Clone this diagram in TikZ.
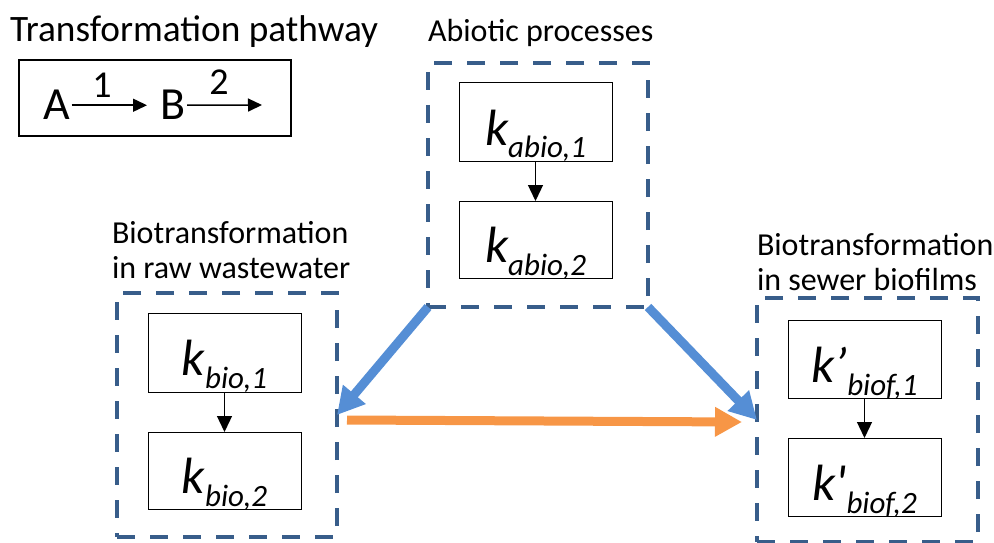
\documentclass[tikz,border=0pt]{standalone}
\usepackage{fontspec}
\newfontfamily\calfont{Carlito}
\usetikzlibrary{arrows.meta}
\definecolor{dashblue}{HTML}{385D8A}
\definecolor{arrblue}{HTML}{558ED5}
\definecolor{arrorange}{HTML}{F79646}
\newcommand{\kk}[2]{{\itshape\fontsize{51}{51}\selectfont #1}{\raisebox{-13pt}{\itshape\fontsize{31}{31}\selectfont #2}}}
\begin{document}
\begin{tikzpicture}[x=1pt,y=-1pt,
  every node/.style={inner sep=0pt, outer sep=0pt},
  lbl/.style={font=\calfont\fontsize{32}{35}\selectfont, anchor=base west},
  kbox/.style={draw, line width=1pt, minimum width=153pt, minimum height=78pt, font=\calfont, text height=56pt, text depth=10pt},
  grp/.style={draw=dashblue, line width=3.5pt, dash pattern=on 18pt off 15pt, anchor=north west},
  flow/.style={-{Triangle[length=27pt,width=28pt]}, line width=9pt},
  small/.style={-{Triangle[length=16pt,width=15pt]}, line width=1.3pt},
  pwarrow/.style={-{Triangle[length=14pt,width=13pt]}, line width=1.5pt}]
\useasboundingbox (0,0) rectangle (994,543);

% transformation pathway
\node[font=\calfont\fontsize{37.3}{40}\selectfont, anchor=base west] (title) at (10,42) {Transformation pathway};
\node[draw, line width=2pt, minimum width=272pt, minimum height=76pt, anchor=north west] (pw) at (19,60) {};
\node[font=\calfont\fontsize{46}{46}\selectfont, anchor=base west] (A) at (43,120) {A};
\node[font=\calfont\fontsize{46}{46}\selectfont, anchor=base west] (B) at (160,120) {B};
\coordinate (Bend) at (262,105);
\draw[pwarrow] ([xshift=2pt]A.east) -- ([xshift=-13pt]B.west);
\draw[pwarrow] ([xshift=2pt]B.east) -- (Bend);
\node[font=\calfont\fontsize{38}{38}\selectfont, anchor=base] (n1) at (102,97) {1};
\node[font=\calfont\fontsize{38}{38}\selectfont, anchor=base] (n2) at (219,95) {2};

% abiotic
\node[lbl] (abl) at (428,42) {Abiotic processes};
\node[grp, minimum width=220pt, minimum height=244pt] (abg) at (428,63) {};
\node[kbox] (ab1) at (535.5,122) {\kk{k}{abio,1}};
\node[kbox, minimum height=77pt] (ab2) at (535.5,239.5) {\kk{k}{abio,2}};
\draw[small] (ab1.south) -- (ab2.north);

% raw wastewater
\node[lbl] (rwl1) at (112,243) {Biotransformation};
\node[lbl] (rwl2) at (112,278) {in raw wastewater};
\node[grp, minimum width=220pt, minimum height=244pt] (rwg) at (117,293) {};
\node[kbox, minimum height=79pt] (rw1) at (224.5,352.5) {\kk{k}{bio,1}};
\node[kbox, minimum height=77pt] (rw2) at (224.5,470.5) {\kk{k}{bio,2}};
\draw[small] (rw1.south) -- (rw2.north);

% sewer biofilms
\node[lbl] (bfl1) at (757,255) {Biotransformation};
\node[lbl] (bfl2) at (757,290) {in sewer biofilms};
\node[grp, minimum width=221pt, minimum height=244pt] (bfg) at (757,298) {};
\node[kbox] (bf1) at (864.5,359) {\kk{k’}{biof,1}};
\node[kbox] (bf2) at (864.5,477) {\kk{k'}{biof,2}};
\draw[small] (bf1.south) -- (bf2.north);

% flows
\draw[flow, arrblue] (abg.south west) -- (rwg.east);
\draw[flow, arrblue] (abg.south east) -- (bfg.west);
\draw[flow, arrorange] ([xshift=10pt,yshift=-5pt]rwg.east) -- ([xshift=-15pt,yshift=-2pt]bfg.west);
\end{tikzpicture}
\end{document}
